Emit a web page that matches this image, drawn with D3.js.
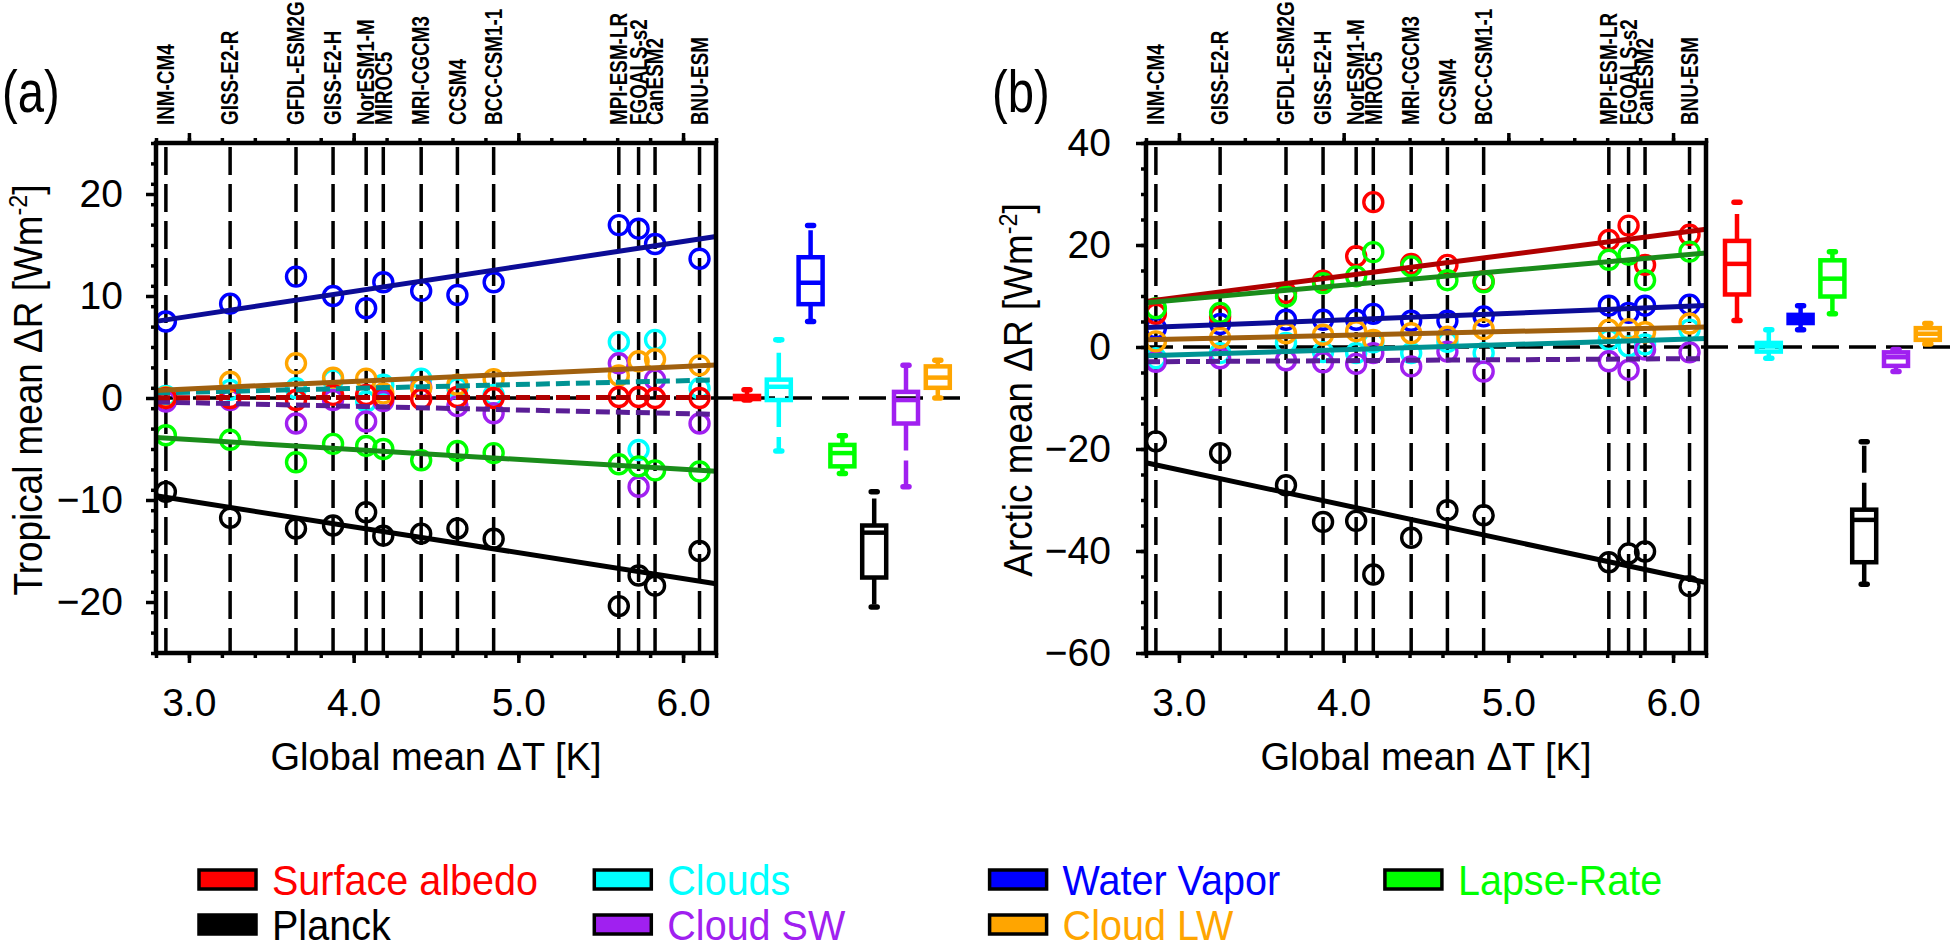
<!DOCTYPE html>
<html><head><meta charset="utf-8">
<script src="https://cdn.jsdelivr.net/npm/d3@7"></script>
<style>
body{margin:0;background:#fff}
svg{display:block}
text{font-family:"Liberation Sans",Arial,Helvetica,sans-serif}
</style>
</head><body>
<svg id="chart" width="1951" height="949"></svg>
<script>
// ---------------- DATA ----------------
const models = ["INM-CM4","GISS-E2-R","GFDL-ESM2G","GISS-E2-H","NorESM1-M","MIROC5","MRI-CGCM3","CCSM4","BCC-CSM1-1","MPI-ESM-LR","FGOALS-s2","CanESM2","BNU-ESM"];
const globalDT = [2.86,3.25,3.65,3.875,4.076,4.18,4.41,4.63,4.85,5.61,5.73,5.83,6.10];

const seriesNames = ["Surface albedo","Clouds","Water Vapor","Lapse-Rate","Planck","Cloud SW","Cloud LW"];

// Panel (a): tropical mean
const tropAlbedo  = [0.0,0.0,-0.2,0.3,0.3,0.0,-0.1,0.1,0.0,0.1,0.1,0.0,0.0];
const tropClouds  = [0.2,0.8,0.95,1.8,-0.35,1.3,1.9,0.95,0.3,5.5,-5.1,5.7,0.95];
const tropWV      = [7.5,9.25,11.9,10.0,8.8,11.35,10.5,10.1,11.35,16.95,16.6,15.1,13.65];
const tropLapse   = [-3.65,-4.1,-6.3,-4.5,-4.7,-5.0,-6.1,-5.2,-5.4,-6.5,-6.7,-7.1,-7.2];
const tropPlanck  = [-9.2,-11.75,-12.8,-12.5,-11.2,-13.5,-13.3,-12.8,-13.8,-20.4,-17.4,-18.4,-15.0];
const tropCloudSW = [-0.35,-0.2,-2.5,-0.2,-2.3,-0.3,1.05,-0.8,-1.5,3.4,-8.7,1.8,-2.5];
const tropCloudLW = [0.07,1.6,3.4,2.0,1.9,0.45,0.95,1.3,1.85,2.2,3.6,3.8,3.2];

// Panel (b): Arctic mean
const arcAlbedo  = [6.5,6.0,10.6,13.0,17.8,28.4,16.3,16.1,12.9,21.0,23.8,16.1,22.0];
const arcClouds  = [-2.2,-1.2,0.8,-1.0,-1.2,0.9,-1.2,1.0,-1.2,1.4,0.1,0.5,3.4];
const arcWV      = [3.7,4.5,5.35,5.35,5.35,6.5,5.15,5.15,6.0,8.1,6.7,8.1,8.3];
const arcLapse   = [7.6,6.7,9.9,12.5,13.85,18.6,15.8,13.1,12.7,17.1,18.1,13.1,18.7];
const arcPlanck  = [-18.5,-20.8,-27.1,-34.3,-34.1,-44.6,-37.4,-32.0,-33.0,-42.2,-40.5,-40.1,-46.9];
const arcCloudSW = [-2.9,-2.2,-2.6,-3.0,-3.3,-1.2,-3.8,-0.9,-4.8,-2.8,-4.5,-0.5,-1.05];
const arcCloudLW = [1.1,1.8,2.7,2.4,3.1,1.4,2.7,2.0,3.5,3.4,3.5,2.9,4.6];

// Box-plot statistics (series order as seriesNames)
const tropBoxMin = [-0.2,-5.2,7.5,-7.4,-20.5,-8.7,0.0];
const tropBoxQ1  = [-0.1,-0.2,9.2,-6.7,-17.6,-2.5,1.0];
const tropBoxMed = [0.05,1.1,11.3,-5.4,-13.2,-0.2,2.0];
const tropBoxQ3  = [0.2,1.8,13.8,-4.6,-12.5,0.6,3.1];
const tropBoxMax = [0.8,5.7,16.9,-3.7,-9.2,3.2,3.7];

const arcBoxMin = [5.2,-2.2,3.4,6.5,-46.5,-4.8,0.6];
const arcBoxQ1  = [10.3,-0.9,4.7,9.9,-42.2,-3.7,1.4];
const arcBoxMed = [16.3,0.1,5.5,13.4,-33.9,-2.0,2.6];
const arcBoxQ3  = [20.8,0.8,6.3,17.0,-31.9,-1.05,3.7];
const arcBoxMax = [28.4,3.4,8.1,18.7,-18.6,-0.5,4.6];

// regression drawn dashed (not significant) per series
const tropFitDashed = [true,true,false,false,false,true,false];
const arcFitDashed  = [false,false,false,false,false,true,false];

const xTickValues = [3,4,5,6];
const xTickLabels = ["3.0","4.0","5.0","6.0"];
const tropYTicks = [-20,-10,0,10,20];
const arcYTicks  = [-60,-40,-20,0,20,40];

// ---------------- STYLE ----------------
const markerColors = ["#ff0000","#00ffff","#0000ff","#00ff00","#000000","#a020f0","#ffa500"];
const fitColors    = ["#b00000","#009393","#0c0c96","#1a8c1a","#000000","#5a1e96","#a0600f"];
const drawOrder = [4,2,1,5,6,0,3];

const W = 1951, H = 949;
const plotTop = 143, plotBottom = 653, plotW = 560;
const xDomain = [2.8, 6.2];
const FONT = '"Liberation Sans",Arial,Helvetica,sans-serif';

const svg = d3.select("#chart");
svg.append("rect").attr("width",W).attr("height",H).attr("fill","#fff");

function panel(P){
  const right = P.left + plotW;
  const x = d3.scaleLinear().domain(xDomain).range([P.left, right]);
  const y = d3.scaleLinear().domain(P.yDomain).range([plotBottom, plotTop]);
  const g = svg.append("g");

  // model vertical dashed lines
  g.append("g").selectAll("line").data(globalDT).join("line")
    .attr("x1", d=>x(d)).attr("x2", d=>x(d))
    .attr("y1", plotTop+4).attr("y2", plotBottom)
    .attr("stroke","#000").attr("stroke-width",3.5).attr("stroke-dasharray","28,9");

  // zero dashed line
  g.append("line").attr("x1",P.left).attr("x2",right+P.zeroExt)
    .attr("y1",y(0)).attr("y2",y(0))
    .attr("stroke","#000").attr("stroke-width",3.5).attr("stroke-dasharray","27,10");

  // markers
  drawOrder.forEach(i=>{
    g.append("g").selectAll("circle").data(P.series[i]).join("circle")
      .attr("cx",(d,k)=>x(globalDT[k])).attr("cy",d=>y(d)).attr("r",9.5)
      .attr("fill","none").attr("stroke",markerColors[i]).attr("stroke-width",3.4);
  });

  // regression lines
  const mx = d3.mean(globalDT);
  drawOrder.forEach(i=>{
    const vals = P.series[i];
    const my = d3.mean(vals);
    let sxy=0, sxx=0;
    globalDT.forEach((t,k)=>{ sxy += (t-mx)*(vals[k]-my); sxx += (t-mx)*(t-mx); });
    const b = sxy/sxx, a = my - b*mx;
    const line = d3.line().x(d=>x(d)).y(d=>y(a+b*d));
    g.append("path").attr("d", line(xDomain))
      .attr("fill","none").attr("stroke",fitColors[i]).attr("stroke-width",5)
      .attr("stroke-dasharray", P.fitDashed[i] ? "14,6" : null);
  });

  // axes
  function styleAxis(sel, withText){
    sel.select(".domain").remove();
    sel.selectAll("line").attr("stroke","#000").attr("stroke-width",3.5);
    sel.attr("font-size",39).attr("font-family",FONT);
    if(withText) sel.selectAll("text").attr("fill","#000");
  }
  const minorX = d3.range(28, 63, 2).map(v=>v/10);
  const minorY = d3.range(P.yDomain[0], P.yDomain[1]+0.001, P.yMinorStep);

  g.append("g").attr("transform",`translate(0,${plotBottom})`)
    .call(d3.axisBottom(x).tickValues(minorX).tickSize(5).tickFormat("")).call(s=>styleAxis(s,false));
  g.append("g").attr("transform",`translate(0,${plotBottom})`)
    .call(d3.axisBottom(x).tickValues(xTickValues).tickFormat((d,i)=>xTickLabels[i]).tickSize(10).tickPadding(25))
    .call(s=>styleAxis(s,true));
  g.append("g").attr("transform",`translate(0,${plotTop})`)
    .call(d3.axisTop(x).tickValues(minorX).tickSize(5).tickFormat("")).call(s=>styleAxis(s,false));
  g.append("g").attr("transform",`translate(0,${plotTop})`)
    .call(d3.axisTop(x).tickValues(xTickValues).tickSize(10).tickFormat("")).call(s=>styleAxis(s,false));
  g.append("g").attr("transform",`translate(${P.left},0)`)
    .call(d3.axisLeft(y).tickValues(minorY).tickSize(5).tickFormat("")).call(s=>styleAxis(s,false));
  g.append("g").attr("transform",`translate(${P.left},0)`)
    .call(d3.axisLeft(y).tickValues(P.yTicks).tickFormat(d3.format("d")).tickSize(10).tickPadding(P.yPad))
    .call(s=>styleAxis(s,true));

  // frame
  g.append("rect").attr("x",P.left).attr("y",plotTop).attr("width",plotW).attr("height",plotBottom-plotTop)
    .attr("fill","none").attr("stroke","#000").attr("stroke-width",4.5);

  // model labels on top
  g.append("g").selectAll("text").data(models).join("text")
    .attr("transform",(d,k)=>`translate(${x(globalDT[k])},125) rotate(-90) scale(0.82,1)`)
    .attr("dy","0.36em").attr("font-size",23).attr("font-weight","bold").attr("fill","#000")
    .text(d=>d);

  // box plots
  const bx = d3.scalePoint().domain(seriesNames).range([right+31, right+31+6*31.8]);
  seriesNames.forEach((name,i)=>{
    const cx = bx(name), c = markerColors[i];
    const bg = g.append("g").attr("stroke",c).attr("fill","none");
    bg.append("line").attr("x1",cx).attr("x2",cx).attr("y1",y(P.box.q3[i])).attr("y2",y(P.box.max[i]))
      .attr("stroke-width",4.5).attr("stroke-dasharray","27,10");
    bg.append("line").attr("x1",cx).attr("x2",cx).attr("y1",y(P.box.q1[i])).attr("y2",y(P.box.min[i]))
      .attr("stroke-width",4.5).attr("stroke-dasharray","27,10");
    [P.box.max[i], P.box.min[i]].forEach(v=>{
      bg.append("line").attr("x1",cx-3).attr("x2",cx+3).attr("y1",y(v)).attr("y2",y(v))
        .attr("stroke-width",5.5).attr("stroke-linecap","round");
    });
    bg.append("rect").attr("x",cx-12).attr("width",24)
      .attr("y",y(P.box.q3[i])).attr("height",Math.max(0.5, y(P.box.q1[i])-y(P.box.q3[i])))
      .attr("stroke-width",4.5);
    bg.append("line").attr("x1",cx-12).attr("x2",cx+12)
      .attr("y1",y(P.box.med[i])).attr("y2",y(P.box.med[i])).attr("stroke-width",4.5);
  });

  // y title
  const t = svg.append("text")
    .attr("transform",`translate(${P.left-114},390) rotate(-90) scale(0.9,1)`)
    .attr("text-anchor","middle").attr("font-size",41).attr("fill","#000");
  t.append("tspan").text(P.yTitle + " \u0394R [Wm");
  t.append("tspan").attr("font-size",26).attr("dy",-15).text("-2");
  t.append("tspan").attr("dy",15).text("]");

  // x title
  svg.append("text").attr("x",(P.left+right)/2).attr("y",770).attr("text-anchor","middle")
    .attr("font-size",38).attr("fill","#000").text("Global mean \u0394T [K]");

  // panel letter
  svg.append("text").attr("transform",`translate(${P.left-154},112) scale(0.8,1)`)
    .attr("font-size",59).attr("fill","#000").text(P.letter);
}

panel({
  left:156, yDomain:[-25,25], yTicks:tropYTicks, yMinorStep:2, yPad:23, zeroExt:246,
  series:[tropAlbedo,tropClouds,tropWV,tropLapse,tropPlanck,tropCloudSW,tropCloudLW],
  fitDashed:tropFitDashed,
  box:{min:tropBoxMin,q1:tropBoxQ1,med:tropBoxMed,q3:tropBoxQ3,max:tropBoxMax},
  yTitle:"Tropical mean", letter:"(a)"
});
panel({
  left:1146, yDomain:[-60,40], yTicks:arcYTicks, yMinorStep:5, yPad:25, zeroExt:260,
  series:[arcAlbedo,arcClouds,arcWV,arcLapse,arcPlanck,arcCloudSW,arcCloudLW],
  fitDashed:arcFitDashed,
  box:{min:arcBoxMin,q1:arcBoxQ1,med:arcBoxMed,q3:arcBoxQ3,max:arcBoxMax},
  yTitle:"Arctic mean", letter:"(b)"
});

// legend
const lg = svg.append("g");
seriesNames.forEach((name,i)=>{
  const col = i<4 ? i : i-4, row = i<4 ? 0 : 1;
  const lx = 199 + col*395.3, ly = 870 + row*45;
  lg.append("rect").attr("x",lx).attr("y",ly).attr("width",57).attr("height",19)
    .attr("fill",markerColors[i]).attr("stroke","#000").attr("stroke-width",3.5);
  lg.append("text").attr("transform",`translate(${lx+73},${ly+25}) scale(0.92,1)`)
    .attr("font-size",43).attr("fill",markerColors[i]).text(name);
});
</script>
</body></html>
